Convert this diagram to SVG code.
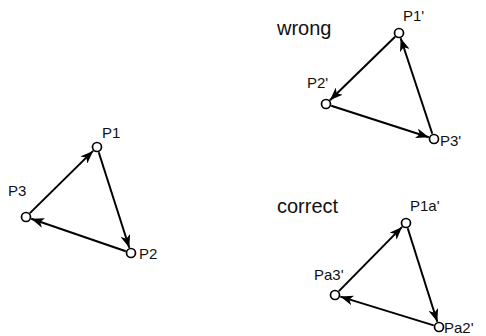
<svg xmlns="http://www.w3.org/2000/svg" width="486" height="336" viewBox="0 0 486 336">
<style>
.lbl{font-family:"Liberation Sans",Arial,sans-serif;font-size:15px;fill:#111}
.ttl{font-family:"Liberation Sans",Arial,sans-serif;font-size:20px;fill:#111}
.nd{fill:#fff;stroke:#000;stroke-width:1.7}
.e{stroke:#000;stroke-width:2;fill:none;marker-end:url(#ah)}
</style>
<defs>
<marker id="ah" viewBox="0 0 13 10" refX="13" refY="5" markerWidth="13" markerHeight="10" markerUnits="userSpaceOnUse" orient="auto">
<path d="M0,0 L13,5 L0,10 L3.5,5 Z" fill="#000"/>
</marker>
</defs>
<rect width="486" height="336" fill="#fff"/>
<g id="connectors">
<line class="e" x1="29.9" y1="213.1" x2="93.1" y2="150.9"/>
<line class="e" x1="98.7" y1="152.2" x2="129.3" y2="247.8"/>
<line class="e" x1="125.8" y1="251.2" x2="31.2" y2="218.8"/>
<line class="e" x1="395.1" y1="36.8" x2="329.9" y2="100.2"/>
<line class="e" x1="331.2" y1="105.7" x2="428.8" y2="137.3"/>
<line class="e" x1="432.3" y1="133.8" x2="400.7" y2="38.2"/>
<line class="e" x1="338.9" y1="291.1" x2="402.1" y2="226.9"/>
<line class="e" x1="407.7" y1="228.2" x2="437.3" y2="321.8"/>
<line class="e" x1="433.7" y1="325.4" x2="340.3" y2="296.6"/>
</g>
<g id="P1"><circle class="nd" cx="97" cy="147" r="4.5"/><text class="lbl" x="102" y="138">P1</text></g>
<g id="P2"><circle class="nd" cx="131" cy="253" r="4.5"/><text class="lbl" x="139" y="259">P2</text></g>
<g id="P3"><circle class="nd" cx="26" cy="217" r="4.5"/><text class="lbl" x="8" y="196">P3</text></g>
<g id="title-wrong"><text class="ttl" x="277" y="35">wrong</text></g>
<g id="P1p"><circle class="nd" cx="399" cy="33" r="4.5"/><text class="lbl" x="403" y="21">P1'</text></g>
<g id="P2p"><circle class="nd" cx="326" cy="104" r="4.5"/><text class="lbl" x="307" y="88">P2'</text></g>
<g id="P3p"><circle class="nd" cx="434" cy="139" r="4.5"/><text class="lbl" x="440" y="146">P3'</text></g>
<g id="title-correct"><text class="ttl" x="277" y="213">correct</text></g>
<g id="P1ap"><circle class="nd" cx="406" cy="223" r="4.5"/><text class="lbl" x="410" y="211">P1a'</text></g>
<g id="Pa3p"><circle class="nd" cx="335" cy="295" r="4.5"/><text class="lbl" x="314" y="280">Pa3'</text></g>
<g id="Pa2p"><circle class="nd" cx="439" cy="327" r="4.5"/><text class="lbl" x="444" y="333">Pa2'</text></g>
</svg>
